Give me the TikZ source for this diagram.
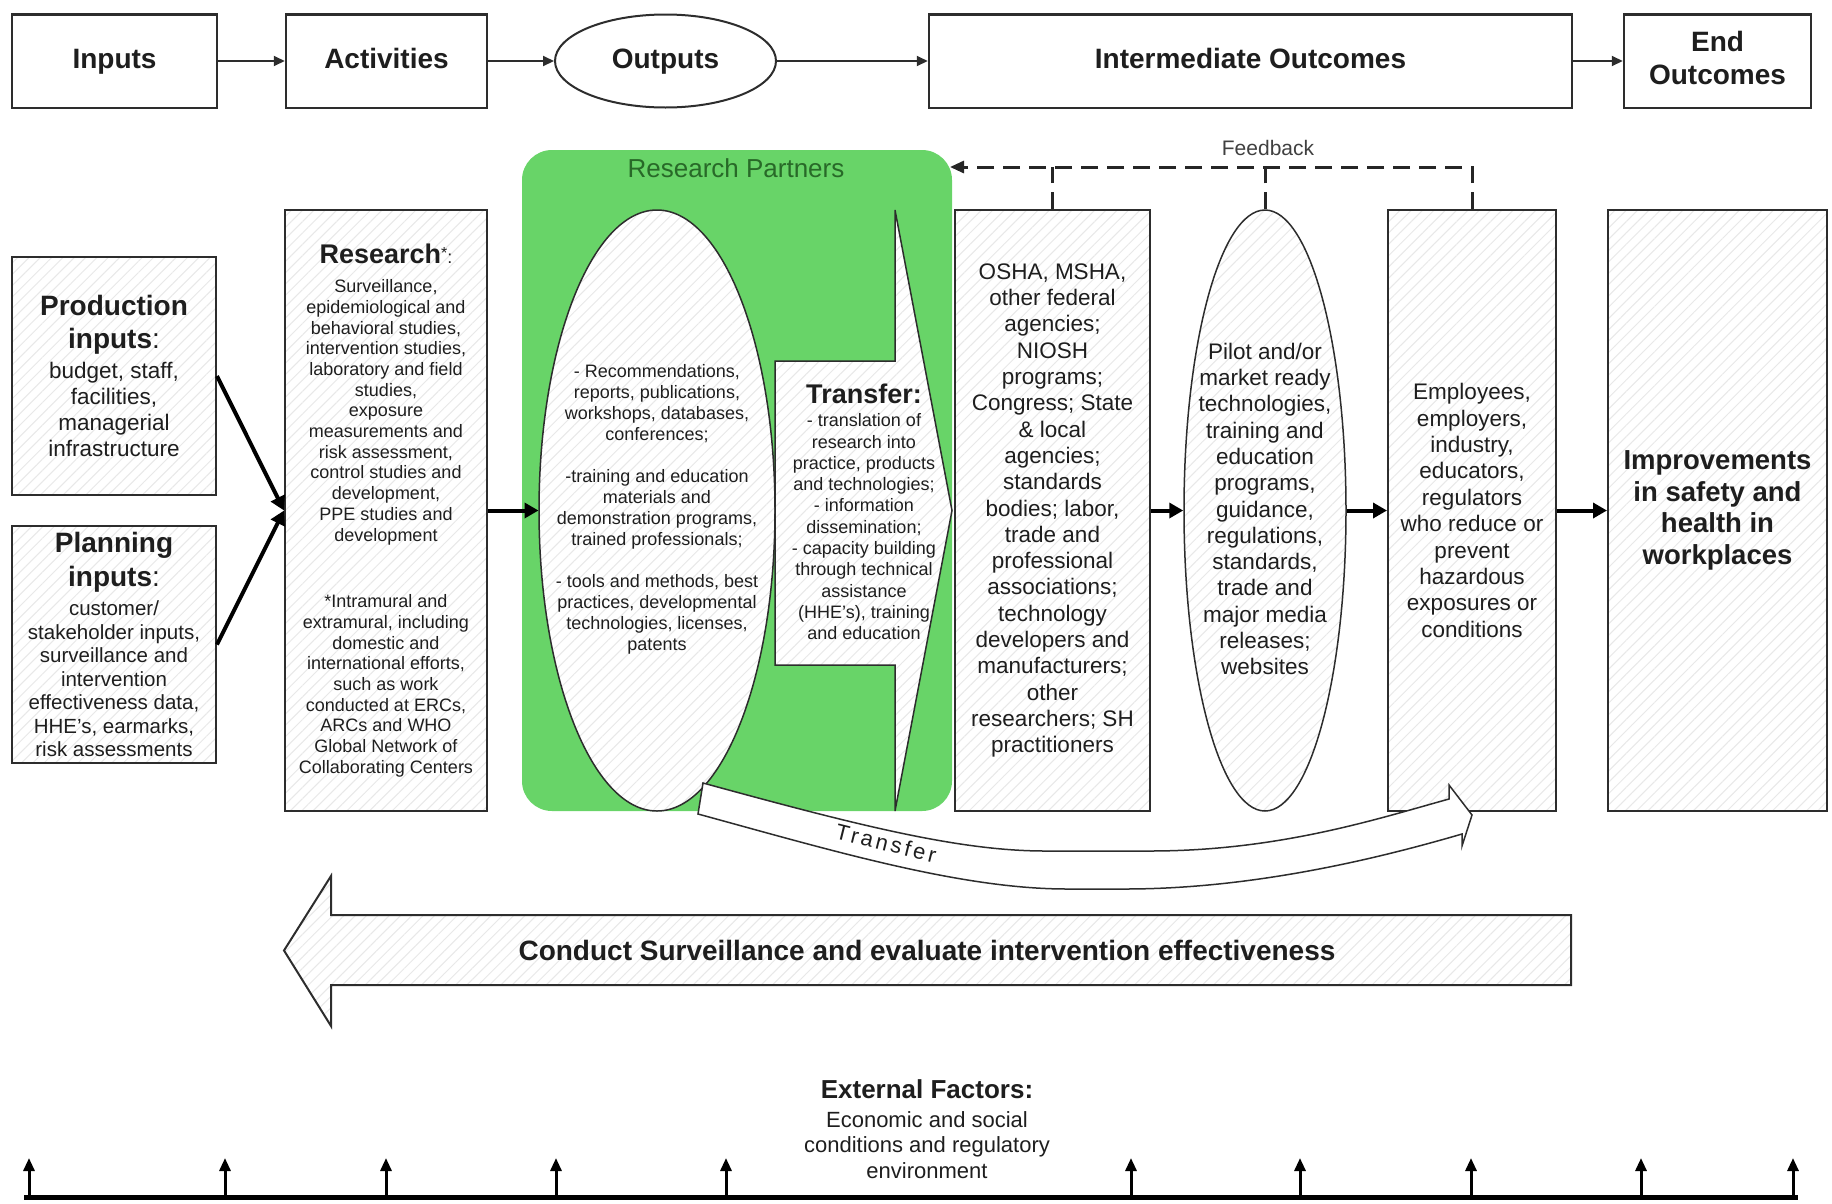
\documentclass[tikz,border=0pt]{standalone}
\usepackage{fontspec}
\setmainfont{Liberation Sans}
\usetikzlibrary{shapes.geometric,arrows.meta,patterns.meta}
\definecolor{grn}{RGB}{104,212,104}
\definecolor{dgrn}{RGB}{40,105,40}
\definecolor{txt}{RGB}{30,30,30}
\definecolor{edge}{RGB}{45,45,45}
\newcommand\fsz[2]{\fontsize{#1}{#2}\selectfont}
\newcommand\hdg[1]{{\fsz{28}{32}\bfseries #1}}
\begin{document}
\begin{tikzpicture}[x=1pt,y=-1pt,
  every node/.style={text=txt},
  hatch/.style={preaction={fill=white}, pattern={Lines[angle=45,distance=8pt,line width=1pt]}, pattern color=black!9},
  topbox/.style={draw=edge, line width=2.5pt, fill=white, inner sep=0pt, font=\fsz{28}{33}\bfseries, align=center},
  oneline/.style={text height=17pt, text depth=3pt},
  midbox/.style={draw=edge, line width=2pt, hatch, inner sep=0pt, align=center},
  ellbox/.style={ellipse, draw=edge, line width=1.5pt, hatch, inner sep=0pt},
  tarr/.style={draw=edge, line width=2pt, -{Triangle[length=11pt,width=10pt]}},
  karr/.style={draw=black, line width=4pt, -{Triangle[length=14pt,width=15pt]}},
  extarr/.style={draw=black, line width=3pt, -{Triangle[length=13pt,width=11pt]}},
  fbdash/.style={draw=black!85, line width=3pt, dash pattern=on 17pt off 9pt}
]
\useasboundingbox (0,0) rectangle (1832,1203);

% ---- top row ----
\node[topbox, oneline, minimum width=205, minimum height=93.5] (in) at (114.5,61) {Inputs};
\node[topbox, oneline, minimum width=201, minimum height=93.5] (act) at (386.5,61) {Activities};
\node[topbox, oneline, ellipse, line width=2pt, minimum width=221, minimum height=93] (out) at (665.5,61) {Outputs};
\node[topbox, oneline, minimum width=643, minimum height=93.5] (inter) at (1250.5,61) {Intermediate Outcomes};
\node[topbox, text depth=6pt, minimum width=187, minimum height=93.5] (endo) at (1717.5,61) {End\\Outcomes};
\draw[tarr] (in) -- (act);
\draw[tarr] (act) -- (out);
\draw[tarr] (out) -- (inter);
\draw[tarr] (inter) -- (endo);

% ---- research partners region ----
\node[fill=grn, rounded corners=30pt, minimum width=430, minimum height=661, inner sep=0pt] (green) at (737,480.5) {};
\node[text=dgrn, font=\fsz{26}{30}] (rp) at (736,168) {Research Partners};
\node[ellbox, minimum width=236, minimum height=601] (oell) at (657,510.5) {};
\node[align=center, font=\fsz{18}{21}] (oelltxt) at (657,509) {- Recommendations,\\ reports, publications,\\ workshops, databases,\\ conferences;\\[21pt] -training and education\\ materials and\\ demonstration programs,\\ trained professionals;\\[21pt] - tools and methods, best\\ practices, developmental\\ technologies, licenses,\\ patents};
\draw[draw=edge, line width=1.5pt, hatch] (775,361) -- (895,361) -- (895,210) -- (952,510.5) -- (895,811) -- (895,665) -- (775,665) -- cycle;
\node[align=center, font=\fsz{18}{21.3}] (trtxt) at (864,512) {{\fsz{27}{31}\bfseries Transfer:}\\[1.7pt] - translation of\\ research into\\ practice, products\\ and technologies;\\ - information\\ dissemination;\\ - capacity building\\ through technical\\ assistance\\ (HHE's), training\\ and education};

% ---- inputs ----
\node[midbox, minimum width=204, minimum height=238, font=\fsz{22.5}{26}] (prod) at (114,376) {\hdg{Production}\\[7pt] \hdg{inputs}{\fsz{28}{32}:}\\[4pt] budget, staff,\\ facilities,\\ managerial\\ infrastructure};
\node[midbox, minimum width=204, minimum height=237, font=\fsz{20.5}{23.5}] (plan) at (114,644.5) {\hdg{Planning}\\[7.5pt] \hdg{inputs}{\fsz{28}{32}:}\\[5.5pt] customer/\\ stakeholder inputs,\\ surveillance and\\ intervention\\ effectiveness data,\\ HHE's, earmarks,\\ risk assessments};

% ---- research ----
\node[midbox, minimum width=202, minimum height=601, font=\fsz{18}{20.7}] (res) at (386,510.5) {{\fsz{27}{31}\bfseries Research}\raisebox{5pt}{\fsz{16}{18}*}{\fsz{18}{20}:}\\[8.3pt] Surveillance,\\ epidemiological and\\ behavioral studies,\\ intervention studies,\\ laboratory and field\\ studies,\\ exposure\\ measurements and\\ risk assessment,\\ control studies and\\ development,\\ PPE studies and\\ development\\[45.9pt] *Intramural and\\ extramural, including\\ domestic and\\ international efforts,\\ such as work\\ conducted at ERCs,\\ ARCs and WHO\\ Global Network of\\ Collaborating Centers};

% ---- intermediate ----
\node[midbox, minimum width=195, minimum height=601, font=\fsz{22.5}{26.3}] (osha) at (1052.5,510.5) {OSHA, MSHA,\\ other federal\\ agencies;\\ NIOSH\\ programs;\\ Congress; State\\ \& local\\ agencies;\\ standards\\ bodies; labor,\\ trade and\\ professional\\ associations;\\ technology\\ developers and\\ manufacturers;\\ other\\ researchers; SH\\ practitioners};
\node[ellbox, minimum width=162, minimum height=601] (pilot) at (1265,510.5) {};
\node[align=center, font=\fsz{22.5}{26.3}] (pilottxt) at (1265,509) {Pilot and/or\\ market ready\\ technologies,\\ training and\\ education\\ programs,\\ guidance,\\ regulations,\\ standards,\\ trade and\\ major media\\ releases;\\ websites};
\node[midbox, minimum width=168, minimum height=601, font=\fsz{22.5}{26.4}] (emp) at (1472,510.5) {Employees,\\ employers,\\ industry,\\ educators,\\ regulators\\ who reduce or\\ prevent\\ hazardous\\ exposures or\\ conditions};
\node[midbox, minimum width=219, minimum height=601, font=\fsz{27.5}{31.5}\bfseries] (imp) at (1717.5,510.5) {Improvements\\ in safety and\\ health in\\ workplaces};

% ---- main arrows ----
\draw[karr] (prod.east) -- (res.west);
\draw[karr] (plan.east) -- (res.west);
\draw[karr] (res.east) -- (oell.west);
\draw[karr] (osha.east) -- (pilot.west);
\draw[karr] (pilot.east) -- (emp.west);
\draw[karr] (emp.east) -- (imp.west);

% ---- feedback ----
\coordinate (fbr) at (1472,167);
\coordinate (fbl) at (950,167);
\draw[fbdash, -{Triangle[length=14pt,width=12pt]}] (emp.north) -- (fbr) -- (fbl);
\draw[fbdash] (osha.north) -- (osha.north |- fbr);
\draw[fbdash] (pilot.north) -- (pilot.north |- fbr);
\node[font=\fsz{21}{24}, text=black!75] (fb) at (1268,148) {Feedback};

% ---- transfer band ----
\draw[draw=edge, line width=1.5pt, fill=white] (703,783) .. controls (860,826) and (960,851) .. (1045,851) -- (1150,851) .. controls (1280,851) and (1380,818) .. (1449,799) -- (1449,785) -- (1472,815) -- (1462,846) -- (1462,834) .. controls (1390,855) and (1260,889) .. (1125,889) -- (1067,889) .. controls (960,889) and (830,850) .. (698,814) -- cycle;
\node[rotate=-14, font=\fsz{22}{25}\addfontfeature{LetterSpace=14}] (tl) at (886,843) {Transfer};

% ---- surveillance arrow ----
\draw[draw=edge, line width=2pt, hatch] (1571,915) -- (1571,985) -- (331,985) -- (331,1026) -- (284,950.5) -- (331,876) -- (331,915) -- cycle;
\node[font=\fsz{28}{32}\bfseries] (cs) at (927,950) {Conduct Surveillance and evaluate intervention effectiveness};

% ---- external factors ----
\node[font=\fsz{26}{30}\bfseries] (ef) at (927,1089) {External Factors:};
\node[align=center, font=\fsz{22}{25.7}] (eft) at (927,1145) {Economic and social\\ conditions and regulatory\\ environment};
\coordinate (bl) at (24,1197);
\coordinate (br) at (1798,1197);
\draw[line width=5pt] (bl) -- (br);
\foreach \x [count=\i] in {29,225,386,556,726,1131,1300,1471,1641,1793} {
  \coordinate (eb\i) at (\x,1197);
  \coordinate (et\i) at (\x,1158);
  \draw[extarr] (eb\i) -- (et\i);
}
\end{tikzpicture}
\end{document}
